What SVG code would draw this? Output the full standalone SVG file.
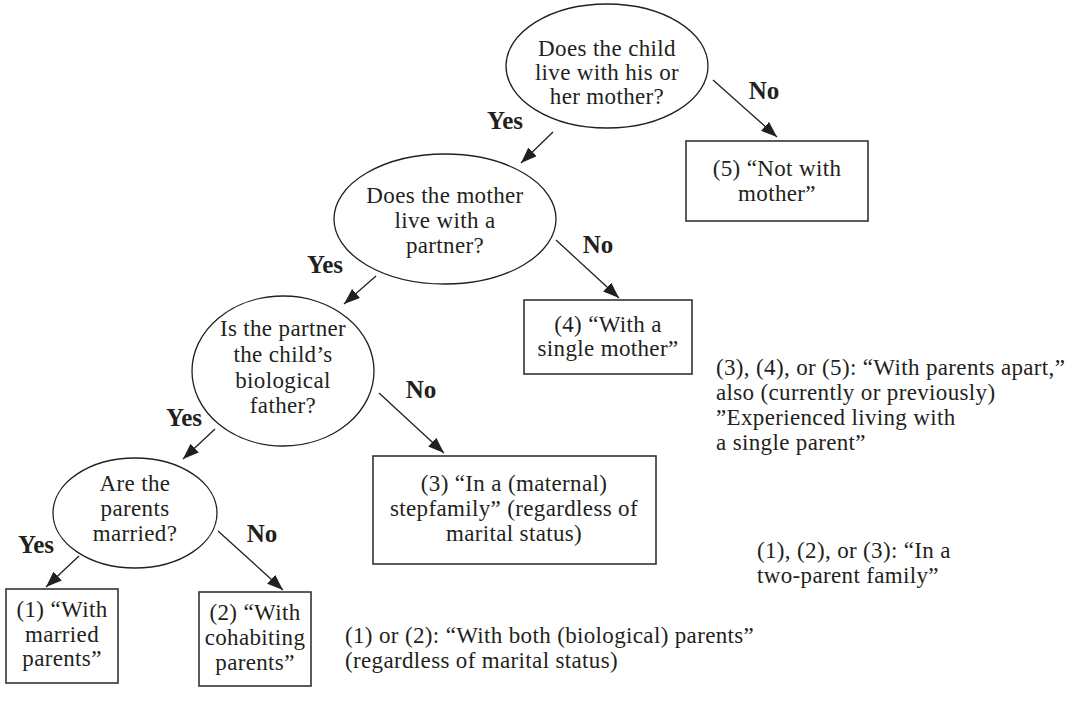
<svg xmlns="http://www.w3.org/2000/svg" width="1076" height="706" viewBox="0 0 1076 706">
<style>
text{font-family:"Liberation Serif","Times New Roman",serif;font-size:23px;letter-spacing:0.35px;fill:#231f20}
.c{text-anchor:middle}
.lbl{font-weight:bold;font-size:25px;letter-spacing:0;text-anchor:middle}
.q{fill:none;stroke:#231f20;stroke-width:1.3}
.b{fill:none;stroke:#333;stroke-width:1.6}
.e{stroke:#231f20;stroke-width:1.3;fill:none}
</style>
<defs>
<marker id="ah" markerUnits="userSpaceOnUse" markerWidth="17" markerHeight="12" refX="16" refY="6" orient="auto">
<path d="M0,0 L16,6 L0,12 z" fill="#231f20"/>
</marker>
</defs>
<rect width="1076" height="706" fill="#fff"/>

<g id="connectors">
<line class="e" x1="553" y1="132" x2="521" y2="163" marker-end="url(#ah)"/>
<line class="e" x1="713" y1="80" x2="777" y2="137" marker-end="url(#ah)"/>
<line class="e" x1="376" y1="276" x2="344" y2="304" marker-end="url(#ah)"/>
<line class="e" x1="556" y1="240" x2="619" y2="298" marker-end="url(#ah)"/>
<line class="e" x1="215" y1="429" x2="183" y2="459" marker-end="url(#ah)"/>
<line class="e" x1="379" y1="393" x2="444" y2="453" marker-end="url(#ah)"/>
<line class="e" x1="79" y1="556" x2="46" y2="587" marker-end="url(#ah)"/>
<line class="e" x1="218" y1="531" x2="283" y2="590" marker-end="url(#ah)"/>
<text class="lbl" x="505" y="129">Yes</text>
<text class="lbl" x="764" y="99">No</text>
<text class="lbl" x="325" y="273">Yes</text>
<text class="lbl" x="598" y="253">No</text>
<text class="lbl" x="184" y="426">Yes</text>
<text class="lbl" x="421" y="398">No</text>
<text class="lbl" x="36" y="553">Yes</text>
<text class="lbl" x="262" y="542">No</text>
</g>

<g id="q1">
<ellipse class="q" cx="607" cy="66" rx="101" ry="62"/>
<text class="c" x="607" y="56">Does the child</text>
<text class="c" x="607" y="80">live with his or</text>
<text class="c" x="607" y="104">her mother?</text>
</g>

<g id="q2">
<ellipse class="q" cx="445" cy="219" rx="111" ry="65"/>
<text class="c" x="445" y="203">Does the mother</text>
<text class="c" x="445" y="228">live with a</text>
<text class="c" x="445" y="253">partner?</text>
</g>

<g id="q3">
<ellipse class="q" cx="283" cy="371" rx="91" ry="75"/>
<text class="c" x="283" y="336">Is the partner</text>
<text class="c" x="283" y="362">the child’s</text>
<text class="c" x="283" y="388">biological</text>
<text class="c" x="283" y="413">father?</text>
</g>

<g id="q4">
<ellipse class="q" cx="135" cy="513" rx="82" ry="55"/>
<text class="c" x="135" y="491">Are the</text>
<text class="c" x="135" y="516">parents</text>
<text class="c" x="135" y="541">married?</text>
</g>

<g id="r5">
<rect class="b" x="686" y="141" width="182" height="80"/>
<text class="c" x="777" y="176">(5) “Not with</text>
<text class="c" x="777" y="201">mother”</text>
</g>

<g id="r4">
<rect class="b" x="524" y="300" width="168" height="74"/>
<text class="c" x="608" y="332">(4) “With a</text>
<text class="c" x="608" y="356">single mother”</text>
</g>

<g id="r3">
<rect class="b" x="373" y="456" width="283" height="108"/>
<text class="c" x="514" y="491">(3) “In a (maternal)</text>
<text class="c" x="514" y="516">stepfamily” (regardless of</text>
<text class="c" x="514" y="541">marital status)</text>
</g>

<g id="r1">
<rect class="b" x="6" y="589" width="112" height="94"/>
<text class="c" x="62" y="617">(1) “With</text>
<text class="c" x="62" y="642">married</text>
<text class="c" x="62" y="666">parents”</text>
</g>

<g id="r2">
<rect class="b" x="199" y="592" width="112" height="94"/>
<text class="c" x="255" y="620">(2) “With</text>
<text class="c" x="255" y="645">cohabiting</text>
<text class="c" x="255" y="670">parents”</text>
</g>

<g id="note-apart">
<text x="716" y="375">(3), (4), or (5): “With parents apart,”</text>
<text x="716" y="400">also (currently or previously)</text>
<text x="716" y="425">”Experienced living with</text>
<text x="716" y="450">a single parent”</text>
</g>

<g id="note-two">
<text x="757" y="558">(1), (2), or (3): “In a</text>
<text x="757" y="583">two-parent family”</text>
</g>

<g id="note-both">
<text x="345" y="643">(1) or (2): “With both (biological) parents”</text>
<text x="345" y="668">(regardless of marital status)</text>
</g>
</svg>
